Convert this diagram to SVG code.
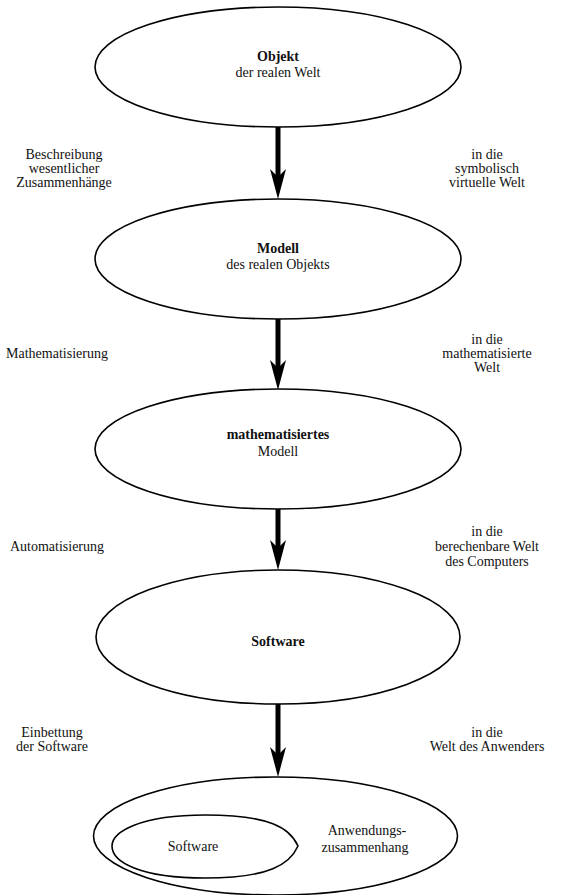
<svg xmlns="http://www.w3.org/2000/svg" width="561" height="895" viewBox="0 0 561 895">
<style>
text{font-family:"Liberation Serif","Times New Roman",serif;font-size:14px;fill:#111;text-anchor:middle}
.b{font-weight:bold}
.n{fill:#fff;stroke:#000;stroke-width:1.6}
.shaft{stroke:#000;stroke-width:5;fill:none}
.head{fill:#000;stroke:none}
</style>
<defs>
<path id="ah" d="M0,0 L-8,-30 L0,-22 L8,-30 Z"/>
</defs>
<rect width="561" height="895" fill="#fff"/>
<g id="connectors">
<line class="shaft" x1="278" y1="127" x2="278" y2="180"/>
<use href="#ah" class="head" x="278" y="199"/>
<line class="shaft" x1="278" y1="318" x2="278" y2="372"/>
<use href="#ah" class="head" x="278" y="390"/>
<line class="shaft" x1="278" y1="509" x2="278" y2="552"/>
<use href="#ah" class="head" x="278" y="570"/>
<line class="shaft" x1="278" y1="704" x2="278" y2="760"/>
<use href="#ah" class="head" x="278" y="777"/>
</g>
<g id="n1">
<ellipse class="n" cx="278" cy="67" rx="183" ry="60"/>
<text class="b" x="278" y="61">Objekt</text>
<text x="278" y="77">der realen Welt</text>
</g>
<g id="n2">
<ellipse class="n" cx="278" cy="259" rx="183" ry="60"/>
<text class="b" x="278" y="253">Modell</text>
<text x="278" y="269">des realen Objekts</text>
</g>
<g id="n3">
<ellipse class="n" cx="278" cy="449" rx="183" ry="60"/>
<text class="b" x="278" y="439">mathematisiertes</text>
<text x="278" y="456">Modell</text>
</g>
<g id="n4">
<ellipse class="n" cx="278" cy="637" rx="182" ry="67"/>
<text class="b" x="278" y="646">Software</text>
</g>
<g id="n5">
<ellipse class="n" cx="275.5" cy="836" rx="182" ry="59"/>
<path class="n" d="M298,846 C290,828 270,815 205,815 C140,815 112,832 112,846 C112,862 140,878 205,878 C270,878 290,864 298,846 Z"/>
<text x="193" y="851">Software</text>
<text x="367" y="835">Anwendungs-</text>
<text x="365" y="852">zusammenhang</text>
</g>
<g id="labels">
<text x="64" y="159">Beschreibung</text>
<text x="64" y="173">wesentlicher</text>
<text x="64" y="187">Zusammenhänge</text>
<text x="487" y="159">in die</text>
<text x="487" y="173">symbolisch</text>
<text x="487" y="187">virtuelle Welt</text>
<text x="57" y="358">Mathematisierung</text>
<text x="487" y="344">in die</text>
<text x="487" y="358">mathematisierte</text>
<text x="487" y="372">Welt</text>
<text x="57" y="551">Automatisierung</text>
<text x="487" y="536">in die</text>
<text x="487" y="551">berechenbare Welt</text>
<text x="487" y="566">des Computers</text>
<text x="52" y="737">Einbettung</text>
<text x="52" y="751">der Software</text>
<text x="487" y="737">in die</text>
<text x="487" y="751">Welt des Anwenders</text>
</g>
</svg>
